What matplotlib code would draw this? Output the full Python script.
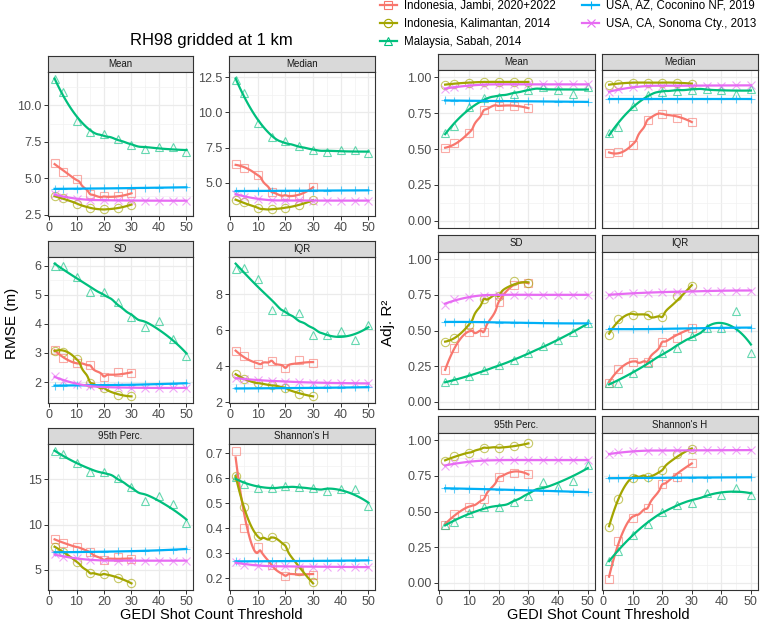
import numpy as np
import matplotlib
matplotlib.use("Agg")
import matplotlib.pyplot as plt
from matplotlib.lines import Line2D
from matplotlib.ticker import MultipleLocator, AutoMinorLocator

plt.rcParams["font.family"] = ["Liberation Sans", "DejaVu Sans"]

sites = ["Indonesia, Jambi, 2020+2022", "Indonesia, Kalimantan, 2014",
         "Malaysia, Sabah, 2014", "USA, AZ, Coconino NF, 2019",
         "USA, CA, Sonoma Cty., 2013"]
colors = ["#F8766D", "#A3A500", "#00BF7D", "#00B0F6", "#E76BF3"]
markers = ["s", "o", "^", "+", "x"]

thresholds = [2, 5, 10, 15, 20, 25, 30, 35, 40, 45, 50]
thresholds_short = [2, 5, 10, 15, 20, 25, 30]  # Jambi and Kalimantan stop at 30

metrics = ["Mean", "Median", "SD", "IQR", "95th Perc.", "Shannon's H"]

# RMSE (m), one list per site in the order of `sites`
rmse_mean = [
    [6.03, 5.42, 4.93, 3.90, 3.75, 3.75, 3.97],
    [3.75, 3.64, 3.26, 2.97, 2.86, 2.97, 3.19],
    [11.8, 10.9, 8.95, 8.17, 8.04, 7.70, 7.28, 7.03, 7.14, 7.14, 6.83],
    [4.27, 4.28, 4.28, 4.30, 4.30, 4.31, 4.33, 4.34, 4.35, 4.37, 4.38],
    [3.93, 3.68, 3.58, 3.52, 3.50, 3.48, 3.47, 3.47, 3.46, 3.46, 3.46],
]
rmse_median = [
    [6.32, 6.02, 5.58, 4.35, 4.12, 4.12, 4.70],
    [3.77, 3.66, 3.20, 3.13, 3.24, 3.43, 3.77],
    [12.3, 11.4, 9.26, 8.22, 7.94, 7.60, 7.36, 7.20, 7.31, 7.36, 7.13],
    [4.42, 4.42, 4.43, 4.43, 4.44, 4.44, 4.45, 4.45, 4.46, 4.46, 4.47],
    [4.24, 4.00, 3.84, 3.77, 3.75, 3.75, 3.74, 3.74, 3.74, 3.74, 3.74],
]
rmse_sd = [
    [3.11, 2.83, 2.66, 2.57, 2.19, 2.36, 2.31],
    [3.08, 3.05, 2.80, 1.98, 1.80, 1.55, 1.52],
    [6.00, 5.98, 5.60, 5.10, 5.09, 4.75, 4.22, 3.90, 4.10, 3.48, 2.91],
    [1.88, 1.88, 1.89, 1.89, 1.90, 1.90, 1.91, 1.92, 1.93, 1.95, 1.96],
    [2.20, 2.05, 1.94, 1.86, 1.83, 1.82, 1.81, 1.80, 1.80, 1.80, 1.80],
]
rmse_iqr = [
    [4.83, 4.59, 4.13, 4.31, 3.91, 4.37, 4.18],
    [3.58, 3.27, 3.08, 2.94, 2.81, 2.44, 2.35],
    [9.41, 9.47, 8.86, 7.12, 7.06, 6.94, 5.74, 5.71, 5.96, 5.47, 6.26],
    [2.77, 2.77, 2.78, 2.78, 2.79, 2.80, 2.80, 2.81, 2.82, 2.83, 2.84],
    [3.36, 3.27, 3.23, 3.20, 3.15, 3.12, 3.10, 3.08, 3.07, 3.06, 3.05],
]
rmse_p95 = [
    [8.42, 7.94, 7.57, 6.95, 6.10, 6.47, 6.21],
    [7.57, 7.02, 5.92, 4.63, 4.56, 4.15, 3.53],
    [18.1, 17.76, 16.76, 15.85, 15.85, 15.2, 14.2, 12.6, 13.16, 12.24, 10.2],
    [6.95, 6.97, 6.98, 7.00, 7.02, 7.05, 7.08, 7.12, 7.17, 7.24, 7.32],
    [6.73, 6.47, 6.29, 6.10, 6.06, 6.04, 6.03, 6.03, 6.03, 6.03, 6.03],
]
rmse_shannon = [
    [0.71, 0.40, 0.324, 0.253, 0.209, 0.227, 0.213],
    [0.609, 0.483, 0.367, 0.363, 0.329, 0.229, 0.183],
    [0.603, 0.576, 0.560, 0.560, 0.567, 0.563, 0.560, 0.547, 0.557, 0.556, 0.489],
    [0.267, 0.267, 0.267, 0.268, 0.268, 0.268, 0.269, 0.269, 0.270, 0.270, 0.271],
    [0.264, 0.253, 0.250, 0.248, 0.247, 0.246, 0.246, 0.245, 0.245, 0.244, 0.244],
]

# Adjusted R^2
r2_mean = [
    [0.505, 0.54, 0.61, 0.77, 0.80, 0.80, 0.785],
    [0.948, 0.955, 0.962, 0.967, 0.967, 0.967, 0.967],
    [0.61, 0.66, 0.79, 0.855, 0.86, 0.885, 0.91, 0.93, 0.91, 0.885, 0.93],
    [0.838, 0.837, 0.836, 0.835, 0.834, 0.833, 0.832, 0.831, 0.830, 0.829, 0.828],
    [0.92, 0.93, 0.943, 0.948, 0.95, 0.95, 0.95, 0.95, 0.95, 0.95, 0.95],
]
r2_median = [
    [0.473, 0.477, 0.53, 0.703, 0.745, 0.717, 0.69],
    [0.948, 0.955, 0.962, 0.962, 0.962, 0.962, 0.955],
    [0.61, 0.652, 0.80, 0.878, 0.897, 0.904, 0.913, 0.92, 0.913, 0.88, 0.92],
    [0.85, 0.85, 0.85, 0.85, 0.85, 0.85, 0.85, 0.85, 0.85, 0.85, 0.85],
    [0.897, 0.915, 0.93, 0.94, 0.94, 0.94, 0.941, 0.942, 0.942, 0.943, 0.943],
]
r2_sd = [
    [0.22, 0.38, 0.49, 0.49, 0.70, 0.82, 0.83],
    [0.42, 0.45, 0.54, 0.72, 0.74, 0.85, 0.83],
    [0.14, 0.15, 0.18, 0.22, 0.255, 0.29, 0.34, 0.39, 0.43, 0.49, 0.55],
    [0.56, 0.56, 0.56, 0.56, 0.555, 0.555, 0.555, 0.55, 0.55, 0.55, 0.55],
    [0.68, 0.72, 0.737, 0.745, 0.75, 0.75, 0.75, 0.75, 0.75, 0.75, 0.75],
]
r2_iqr = [
    [0.135, 0.227, 0.28, 0.28, 0.42, 0.45, 0.52],
    [0.47, 0.58, 0.61, 0.61, 0.595, 0.74, 0.81],
    [0.135, 0.135, 0.2, 0.27, 0.34, 0.38, 0.46, 0.52, 0.52, 0.64, 0.34],
    [0.51, 0.51, 0.51, 0.51, 0.51, 0.515, 0.515, 0.515, 0.52, 0.52, 0.52],
    [0.75, 0.755, 0.76, 0.765, 0.77, 0.77, 0.775, 0.775, 0.78, 0.78, 0.78],
]
r2_p95 = [
    [0.407, 0.48, 0.53, 0.586, 0.74, 0.767, 0.763],
    [0.856, 0.888, 0.91, 0.947, 0.947, 0.958, 0.977],
    [0.407, 0.426, 0.488, 0.535, 0.53, 0.565, 0.612, 0.71, 0.674, 0.716, 0.826],
    [0.663, 0.661, 0.659, 0.657, 0.654, 0.651, 0.648, 0.645, 0.642, 0.639, 0.635],
    [0.82, 0.837, 0.85, 0.856, 0.86, 0.86, 0.86, 0.86, 0.86, 0.86, 0.86],
]
r2_shannon = [
    [0.03, 0.295, 0.453, 0.523, 0.69, 0.744, 0.842],
    [0.393, 0.588, 0.737, 0.74, 0.79, 0.90, 0.937],
    [0.151, 0.226, 0.337, 0.412, 0.50, 0.546, 0.563, 0.628, 0.616, 0.667, 0.616],
    [0.733, 0.734, 0.735, 0.735, 0.736, 0.737, 0.737, 0.738, 0.739, 0.739, 0.74],
    [0.90, 0.914, 0.923, 0.926, 0.927, 0.928, 0.928, 0.929, 0.929, 0.93, 0.93],
]

rmse_data = [rmse_mean, rmse_median, rmse_sd, rmse_iqr, rmse_p95, rmse_shannon]
r2_data = [r2_mean, r2_median, r2_sd, r2_iqr, r2_p95, r2_shannon]

rmse_ticks = [[2.5, 5.0, 7.5, 10.0], [5.0, 7.5, 10.0, 12.5], [2, 3, 4, 5, 6],
              [2, 4, 6, 8], [5, 10, 15], [0.2, 0.3, 0.4, 0.5, 0.6, 0.7]]
rmse_fmt = ["{:.1f}", "{:.1f}", "{:g}", "{:g}", "{:g}", "{:.1f}"]
r2_ticks = [0.0, 0.25, 0.5, 0.75, 1.0]


def loess(x, y, xs, span=0.75):
    # local quadratic fit with tricube weights, like geom_smooth's default
    x = np.asarray(x, float)
    y = np.asarray(y, float)
    q = int(np.floor(len(x) * span))
    out = []
    for x0 in xs:
        d = np.abs(x - x0)
        h = np.sort(d)[q - 1] * 1.0001
        w = np.clip(1 - (d / h) ** 3, 0, None) ** 3
        A = np.vstack([np.ones_like(x), x - x0, (x - x0) ** 2]).T
        sw = np.sqrt(w)
        coef = np.linalg.lstsq(A * sw[:, None], y * sw, rcond=None)[0]
        out.append(coef[0])
    return np.array(out)


W, H = 760, 622
fig = plt.figure(figsize=(W / 100, H / 100), dpi=100)


def px_axes(x0, x1, ytop, ybot):
    return fig.add_axes([x0 / W, 1 - ybot / H, (x1 - x0) / W, (ybot - ytop) / H])


def style_panel(ax):
    ax.set_facecolor("white")
    for s in ax.spines.values():
        s.set_color("#333333")
        s.set_linewidth(0.8)
    ax.grid(which="major", color="#EBEBEB", lw=0.9)
    ax.grid(which="minor", color="#F2F2F2", lw=0.5)
    ax.set_axisbelow(True)
    ax.tick_params(which="major", length=3, width=0.7, color="#333333",
                   labelsize=9, labelcolor="#4D4D4D", pad=1.5)
    ax.tick_params(which="minor", length=0)
    ax.set_xlim(-0.4, 52.4)
    ax.xaxis.set_major_locator(MultipleLocator(10))
    ax.xaxis.set_minor_locator(MultipleLocator(5))


def add_strip(x0, x1, ytop, ybot, label):
    sax = px_axes(x0, x1, ytop, ybot)
    sax.set_facecolor("#D9D9D9")
    sax.set_xticks([])
    sax.set_yticks([])
    for s in sax.spines.values():
        s.set_color("#333333")
        s.set_linewidth(0.8)
    sax.text(0.5, 0.5, label, ha="center", va="center", fontsize=7,
             color="#1A1A1A", transform=sax.transAxes)


def draw_series(ax, data):
    lines_y = []
    for i, vals in enumerate(data):
        xv = thresholds if len(vals) == len(thresholds) else thresholds_short
        ax.plot(xv, vals, linestyle="none", marker=markers[i], ms=6,
                mfc="none", mec=colors[i], mew=0.8, alpha=0.6, zorder=2)
    for i, vals in enumerate(data):
        xv = thresholds if len(vals) == len(thresholds) else thresholds_short
        xs = np.linspace(min(xv), max(xv), 80)
        ys = loess(xv, vals, xs)
        ax.plot(xs, ys, color=colors[i], lw=1.6, zorder=3)
        lines_y.append(ys)
    return lines_y


left_cols = [(48, 193), (229, 375)]
left_rows = [(56, 72, 216), (241, 257, 403), (428, 444, 590)]
right_cols = [(438, 595), (602, 758)]
right_rows = [(54, 70, 228), (235, 252, 409), (416, 433, 590)]

for k, name in enumerate(metrics):
    r, c = divmod(k, 2)

    # RMSE facet (free scales)
    st, pt, pb = left_rows[r]
    x0, x1 = left_cols[c]
    add_strip(x0, x1, st, pt, name)
    ax = px_axes(x0, x1, pt, pb)
    style_panel(ax)
    fits = draw_series(ax, rmse_data[k])
    allv = np.concatenate([np.concatenate(fits)] + [np.asarray(v) for v in rmse_data[k]])
    lo, hi = allv.min(), allv.max()
    pad = 0.05 * (hi - lo)
    ax.set_ylim(lo - pad, hi + pad)
    ax.set_yticks(rmse_ticks[k])
    ax.set_yticklabels([rmse_fmt[k].format(t) for t in rmse_ticks[k]])
    ax.yaxis.set_minor_locator(AutoMinorLocator(2))

    # Adj. R2 facet (fixed scales)
    st, pt, pb = right_rows[r]
    x0, x1 = right_cols[c]
    add_strip(x0, x1, st, pt, name)
    ax = px_axes(x0, x1, pt, pb)
    style_panel(ax)
    draw_series(ax, r2_data[k])
    ax.set_ylim(-0.05, 1.05)
    ax.set_yticks(r2_ticks)
    ax.set_yticklabels(["{:.2f}".format(t) for t in r2_ticks])
    ax.yaxis.set_minor_locator(AutoMinorLocator(2))
    if c == 1:
        ax.tick_params(axis="y", which="both", length=0, labelleft=False)
    if r < 2:
        ax.tick_params(axis="x", which="both", length=0, labelbottom=False)

fig.text(211 / W, 1 - 40 / H, "RH98 gridded at 1 km", ha="center", va="center", fontsize=12)
fig.text(12 / W, 1 - 323 / H, "RMSE (m)", ha="center", va="center", rotation=90, fontsize=11)
fig.text(388 / W, 1 - 323 / H, "Adj. R²", ha="center", va="center", rotation=90, fontsize=11)
fig.text(211 / W, 1 - 615 / H, "GEDI Shot Count Threshold", ha="center", va="center", fontsize=10.5)
fig.text(598 / W, 1 - 615 / H, "GEDI Shot Count Threshold", ha="center", va="center", fontsize=10.5)

handles = [Line2D([], [], color=colors[i], lw=1.6, marker=markers[i], ms=6,
                  mfc="none", mec=colors[i], mew=0.8) for i in range(len(sites))]
fig.legend(handles, sites, ncol=2, loc="upper left", bbox_to_anchor=(375 / W, 1 + 5 / H),
           frameon=False, fontsize=8.3, handlelength=1.5, handletextpad=0.6,
           columnspacing=2.3, labelspacing=0.55, borderaxespad=0)

fig.savefig("out.png", dpi=100)
